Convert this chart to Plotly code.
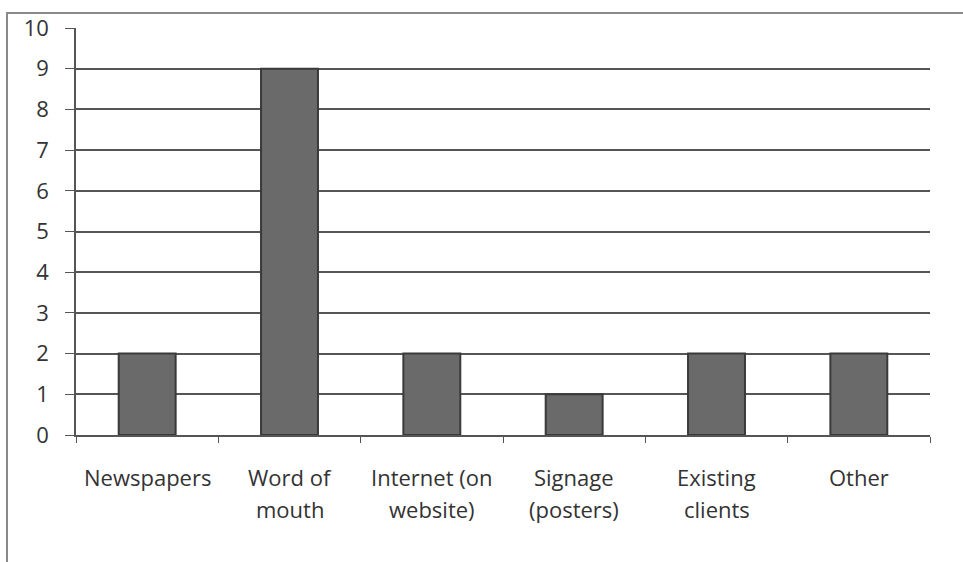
import plotly.graph_objects as go

categories = ["Newspapers", "Word of mouth", "Internet (on website)", "Signage (posters)", "Existing clients", "Other"]
label_line1 = ["Newspapers", "Word of", "Internet (on", "Signage", "Existing", "Other"]
label_line2 = ["", "mouth", "website)", "(posters)", "clients", ""]
values = [2, 9, 2, 1, 2, 2]
y_ticks = list(range(0, 11))

fig = go.Figure()
fig.add_trace(go.Bar(
    x=categories, y=values,
    marker=dict(color="#6a6a6a", line=dict(color="#3a3a3a", width=2)),
    width=0.4,
))

font_family = "Open Sans"
for c, l1, l2 in zip(categories, label_line1, label_line2):
    fig.add_annotation(x=c, xref="x", y=-0.103, yref="paper", text=l1, showarrow=False,
                       font=dict(family=font_family, size=22, color="#333333"), yanchor="middle")
    if l2:
        fig.add_annotation(x=c, xref="x", y=-0.182, yref="paper", text=l2, showarrow=False,
                           font=dict(family=font_family, size=22, color="#333333"), yanchor="middle")

fig.add_shape(type="rect", xref="paper", yref="paper", x0=-0.0808, x1=1.2, y0=-0.4, y1=1.0369,
              line=dict(color="#8a8a8a", width=2), layer="below")

fig.update_layout(
    width=963, height=562,
    margin=dict(l=76, r=33, t=28, b=127),
    paper_bgcolor="white", plot_bgcolor="white",
    showlegend=False,
    xaxis=dict(type="category", showticklabels=False, ticks="outside", tickson="boundaries",
               ticklen=6, tickcolor="#555555", showline=True, linecolor="#555555", linewidth=1.5,
               showgrid=False),
    yaxis=dict(range=[0, 10], tickvals=y_ticks, ticks="outside", ticklen=9, tickcolor="#555555",
               showline=True, linecolor="#555555", linewidth=1.5, ticklabelstandoff=12,
               showgrid=True, gridcolor="#555555", gridwidth=1.5, zeroline=False,
               tickfont=dict(family=font_family, size=22, color="#333333")),
)

fig.write_html("out.html")
